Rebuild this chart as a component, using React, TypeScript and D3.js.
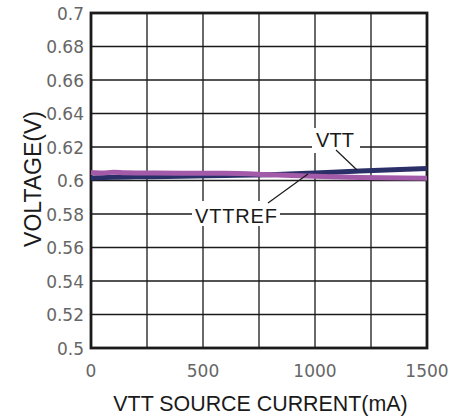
import React from 'react';
import * as d3 from 'd3';

const xTicks = [0, 500, 1000, 1500];
const xGrid = [0, 250, 500, 750, 1000, 1250, 1500];
const yTicks = [0.5, 0.52, 0.54, 0.56, 0.58, 0.6, 0.62, 0.64, 0.66, 0.68, 0.7];

const currentVTT = [0, 100, 200, 400, 600, 800, 1000, 1200, 1500];
const voltageVTT = [0.6015, 0.602, 0.6022, 0.6025, 0.603, 0.6035, 0.6045, 0.6057, 0.6072];

const currentREF = [0, 50, 100, 150, 200, 400, 600, 800, 1000, 1200, 1500];
const voltageREF = [0.6048, 0.6045, 0.6049, 0.6046, 0.6045, 0.6044, 0.6043, 0.6035, 0.6025, 0.6018, 0.6013];

const W = 461, H = 416;
const left = 91, right = 427, top = 13, bottom = 348;
const titleFont = "'Liberation Sans', Arial, sans-serif";

export default function App() {
  const x = d3.scaleLinear().domain([0, 1500]).range([left, right]);
  const y = d3.scaleLinear().domain([0.5, 0.7]).range([bottom, top]);

  const line = d3.line<[number, number]>()
    .x(d => x(d[0]))
    .y(d => y(d[1]))
    .curve(d3.curveMonotoneX);

  const vtt = line(currentVTT.map((c, i) => [c, voltageVTT[i]] as [number, number]));
  const ref = line(currentREF.map((c, i) => [c, voltageREF[i]] as [number, number]));

  const fmt = (v: number) => String(+v.toFixed(2));

  return (
    <svg width={W} height={H} style={{ position: 'absolute', left: 0, top: 0 }}
      fontFamily="'DejaVu Sans', sans-serif">
      <rect width={W} height={H} fill="#fff" />
      {yTicks.map(t => (
        <line key={'h' + t} x1={left} x2={right} y1={y(t)} y2={y(t)} stroke="#1a1a1a" strokeWidth={1.3} />
      ))}
      {xGrid.map(t => (
        <line key={'v' + t} x1={x(t)} x2={x(t)} y1={top} y2={bottom} stroke="#1a1a1a" strokeWidth={1.3} />
      ))}
      <rect x={left} y={top} width={right - left} height={bottom - top} fill="none" stroke="#1a1a1a" strokeWidth={2.8} />

      <path d={vtt || ''} fill="none" stroke="#2b2f68" strokeWidth={5} />
      <path d={ref || ''} fill="none" stroke="#a35aa8" strokeWidth={5} />

      {/* callouts */}
      <rect x={312} y={128} width={48} height={25} fill="#fff" />
      <text x={335} y={147} textAnchor="middle" fontSize={20} fill="#1a1a1a" fontFamily={titleFont}>VTT</text>
      <line x1={336} y1={150} x2={357} y2={170} stroke="#1a1a1a" strokeWidth={1.2} />

      <rect x={192} y={201} width={88} height={25} fill="#fff" />
      <text x={236} y={223} textAnchor="middle" fontSize={20} fill="#1a1a1a" fontFamily={titleFont}
        textLength={82} lengthAdjust="spacing">VTTREF</text>
      <line x1={268} y1={203} x2={308} y2={174} stroke="#1a1a1a" strokeWidth={1.2} />

      {yTicks.map(t => (
        <text key={'yl' + t} x={84} y={y(t) + 6.5} textAnchor="end" fontSize={17} fill="#666">
          {fmt(t)}
        </text>
      ))}
      {xTicks.map(t => (
        <text key={'xl' + t} x={x(t)} y={377} textAnchor="middle" fontSize={17} fill="#666">
          {t}
        </text>
      ))}
      <text x={260.5} y={411} textAnchor="middle" fontSize={21.4} fill="#1a1a1a" fontFamily={titleFont}>
        VTT SOURCE CURRENT(mA)
      </text>
      <text transform={`translate(41, 179) rotate(-90)`} textAnchor="middle" fontSize={23}
        fill="#1a1a1a" fontFamily={titleFont}>
        VOLTAGE(V)
      </text>
    </svg>
  );
}
